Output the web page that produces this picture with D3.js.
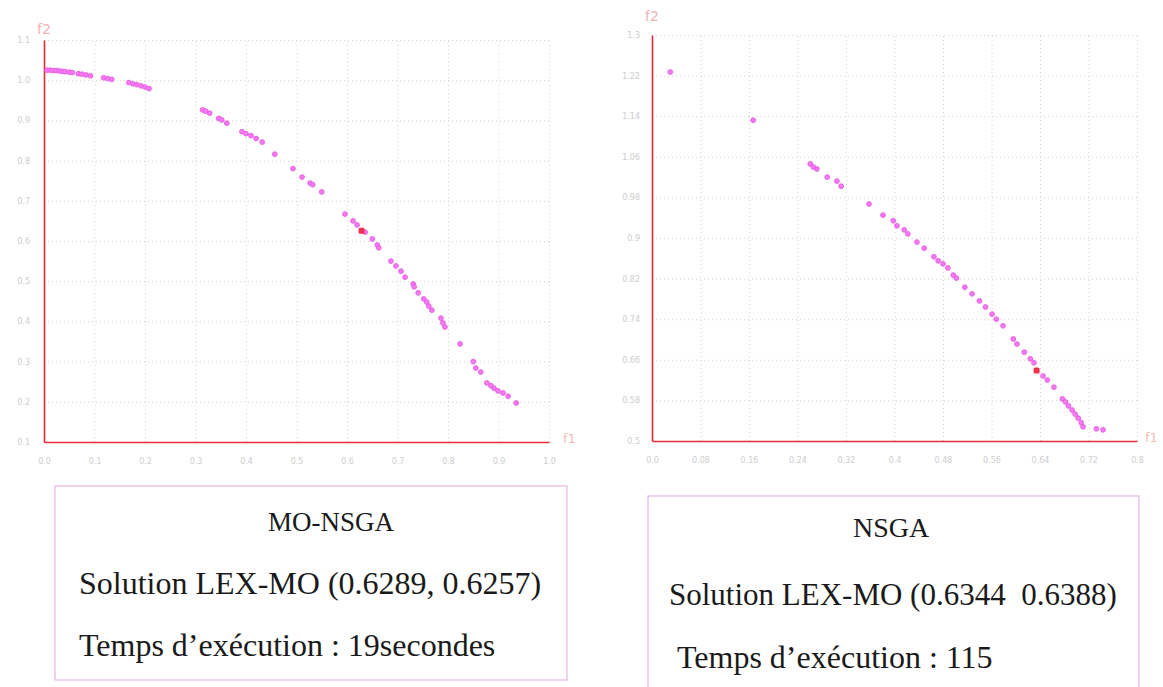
<!DOCTYPE html>
<html>
<head>
<meta charset="utf-8">
<script src="https://cdn.jsdelivr.net/npm/d3@7"></script>
<style>
  body { margin: 0; background: #fff; }
  svg { display: block; }
  .tick text { fill: #cdcdcd; font-family: "DejaVu Sans", sans-serif; font-size: 8px; }
  .grid line { stroke: #d2d2d2; stroke-dasharray: 1,3; }
  .grid path { display: none; }
  .caption { font-family: "Liberation Serif", "Times New Roman", serif; fill: #1a1a1a; white-space: pre; }
</style>
</head>
<body>
<svg id="chart" width="1163" height="687"></svg>
<script>
// MO-NSGA front (f1, f2)
const moF1 = [0.006, 0.012, 0.018, 0.024, 0.030, 0.036, 0.042, 0.050, 0.056,
  0.068, 0.075, 0.083, 0.092, 0.118, 0.126, 0.134,
  0.168, 0.176, 0.184, 0.192, 0.200, 0.208,
  0.314, 0.320, 0.328, 0.346, 0.352, 0.362,
  0.392, 0.400, 0.410, 0.420, 0.432, 0.457, 0.493, 0.511, 0.527, 0.532, 0.550,
  0.596, 0.612, 0.620, 0.636, 0.650, 0.660, 0.663, 0.687, 0.697, 0.707, 0.715,
  0.731, 0.733, 0.741, 0.752, 0.758, 0.762, 0.768, 0.786, 0.790, 0.794, 0.824,
  0.850, 0.855, 0.865, 0.877, 0.885, 0.891, 0.899, 0.909, 0.919, 0.935];
const moF2 = [1.025, 1.025, 1.024, 1.024, 1.023, 1.022, 1.021, 1.020, 1.019,
  1.016, 1.015, 1.013, 1.011, 1.006, 1.004, 1.002,
  0.994, 0.991, 0.989, 0.986, 0.983, 0.979,
  0.926, 0.923, 0.918, 0.905, 0.901, 0.893,
  0.872, 0.867, 0.862, 0.855, 0.846, 0.816, 0.780, 0.759, 0.744, 0.740, 0.722,
  0.667, 0.650, 0.640, 0.622, 0.605, 0.590, 0.583, 0.550, 0.538, 0.525, 0.510,
  0.493, 0.486, 0.471, 0.456, 0.448, 0.438, 0.428, 0.408, 0.396, 0.386, 0.344,
  0.300, 0.284, 0.274, 0.247, 0.240, 0.234, 0.227, 0.222, 0.214, 0.197];
const moLex = [0.6289, 0.6257];

// NSGA front (f1, f2)
const nsF1 = [0.030, 0.167, 0.261, 0.266, 0.272, 0.289, 0.305, 0.312, 0.358, 0.381,
  0.398, 0.404, 0.416, 0.422, 0.437, 0.449, 0.465, 0.472, 0.480, 0.488,
  0.497, 0.502, 0.516, 0.528, 0.540, 0.550, 0.561, 0.568, 0.579, 0.596,
  0.602, 0.614, 0.624, 0.630, 0.645, 0.652, 0.663, 0.677, 0.682, 0.687,
  0.693, 0.698, 0.703, 0.708, 0.711, 0.733, 0.744];
const nsF2 = [1.227, 1.132, 1.046, 1.040, 1.036, 1.020, 1.012, 1.002, 0.967, 0.945,
  0.934, 0.924, 0.916, 0.908, 0.892, 0.880, 0.863, 0.855, 0.849, 0.841,
  0.827, 0.821, 0.803, 0.790, 0.776, 0.764, 0.750, 0.740, 0.727, 0.701,
  0.691, 0.675, 0.662, 0.654, 0.628, 0.620, 0.606, 0.583, 0.577, 0.569,
  0.561, 0.553, 0.545, 0.536, 0.528, 0.524, 0.522];
const nsLex = [0.6344, 0.6388];

// tick labels as printed on the scan
const moXTicks = ["0.0", "0.1", "0.2", "0.3", "0.4", "0.5", "0.6", "0.7", "0.8", "0.9", "1.0"];
const moYTicks = ["0.1", "0.2", "0.3", "0.4", "0.5", "0.6", "0.7", "0.8", "0.9", "1.0", "1.1"];
const nsXTicks = ["0.0", "0.08", "0.16", "0.24", "0.32", "0.4", "0.48", "0.56", "0.64", "0.72", "0.8"];
const nsYTicks = ["0.5", "0.58", "0.66", "0.74", "0.82", "0.9", "0.98", "1.06", "1.14", "1.22", "1.3"];

// caption texts
const moCaption = ["MO-NSGA", "Solution LEX-MO (0.6289, 0.6257)", "Temps d\u2019exécution : 19secondes"];
const nsCaption = ["NSGA", "Solution LEX-MO (0.6344  0.6388)", "Temps d\u2019exécution : 115"];

const svg = d3.select("#chart");

function drawScatter(opt) {
  const g = svg.append("g");
  const x = d3.scaleLinear().domain(opt.xDomain).range([opt.left, opt.right]);
  const y = d3.scaleLinear().domain(opt.yDomain).range([opt.bottom, opt.top]);
  const xVals = opt.xTicks.map(Number);
  const yVals = opt.yTicks.map(Number);

  // dotted grid
  g.append("g").attr("class", "grid")
    .attr("transform", "translate(0," + opt.bottom + ")")
    .call(d3.axisBottom(x).tickValues(xVals.slice(1)).tickSize(-(opt.bottom - opt.top)).tickFormat(""));
  g.append("g").attr("class", "grid")
    .attr("transform", "translate(" + opt.left + ",0)")
    .call(d3.axisLeft(y).tickValues(yVals.slice(1)).tickSize(-(opt.right - opt.left)).tickFormat(""));

  // axes
  const xAxis = g.append("g")
    .attr("transform", "translate(0," + opt.bottom + ")")
    .call(d3.axisBottom(x).tickValues(xVals).tickSize(0).tickPadding(16)
      .tickFormat((d, i) => opt.xTicks[i]));
  const yAxis = g.append("g")
    .attr("transform", "translate(" + opt.left + ",0)")
    .call(d3.axisLeft(y).tickValues(yVals).tickSize(0).tickPadding(opt.yPad)
      .tickFormat((d, i) => opt.yTicks[i]));
  xAxis.select(".domain").attr("stroke", "#e8303a").attr("stroke-width", 1.6);
  yAxis.select(".domain").attr("stroke", "#e02a36").attr("stroke-width", 1.6);

  g.append("text").attr("x", opt.left - 7).attr("y", opt.f2Y)
    .attr("font-family", "DejaVu Sans, sans-serif").attr("font-size", 14)
    .attr("fill", "#efb4b4").text("f2");
  g.append("text").attr("x", opt.right + opt.f1Dx).attr("y", opt.bottom + 1)
    .attr("font-family", "DejaVu Sans, sans-serif").attr("font-size", 13)
    .attr("fill", "#efc0b8").text("f1");

  // front points
  g.selectAll(".pt").data(opt.f1.map((v, i) => [v, opt.f2[i]]))
    .join("circle").attr("class", "pt")
    .attr("cx", d => x(d[0])).attr("cy", d => y(d[1])).attr("r", 2.4)
    .attr("fill", "#f47cf0").attr("stroke", "#e858e4").attr("stroke-width", 0.9);

  // LEX-MO solution
  g.append("rect")
    .attr("x", x(opt.lex[0]) - 3).attr("y", y(opt.lex[1]) - 3)
    .attr("width", 6).attr("height", 6).attr("rx", 1.5)
    .attr("fill", "#f2304e");
}

function drawCaption(box, lines, pos, sizes) {
  svg.append("rect").attr("x", box[0]).attr("y", box[1])
    .attr("width", box[2]).attr("height", box[3])
    .attr("fill", "none").attr("stroke", "#eab4e4").attr("stroke-width", 1.2);
  lines.forEach((t, i) => {
    svg.append("text").attr("class", "caption")
      .attr("x", pos[i][0]).attr("y", pos[i][1])
      .attr("font-size", sizes[i]).text(t);
  });
}

drawScatter({
  xDomain: [0, 1], yDomain: [0.1, 1.1],
  left: 44, right: 549, top: 40, bottom: 442, yPad: 14, f2Y: 34, f1Dx: 14,
  xTicks: moXTicks, yTicks: moYTicks,
  f1: moF1, f2: moF2, lex: moLex
});

drawScatter({
  xDomain: [0, 0.8], yDomain: [0.5, 1.3],
  left: 652, right: 1137, top: 35, bottom: 441, yPad: 12, f2Y: 21, f1Dx: 8,
  xTicks: nsXTicks, yTicks: nsYTicks,
  f1: nsF1, f2: nsF2, lex: nsLex
});

drawCaption([55, 486, 512, 194], moCaption, [[268, 531], [79, 594], [79, 656]], [27, 32, 32]);
drawCaption([648, 496, 491, 200], nsCaption, [[853, 537], [669, 605], [677, 668]], [28, 31, 32]);
</script>
</body>
</html>
